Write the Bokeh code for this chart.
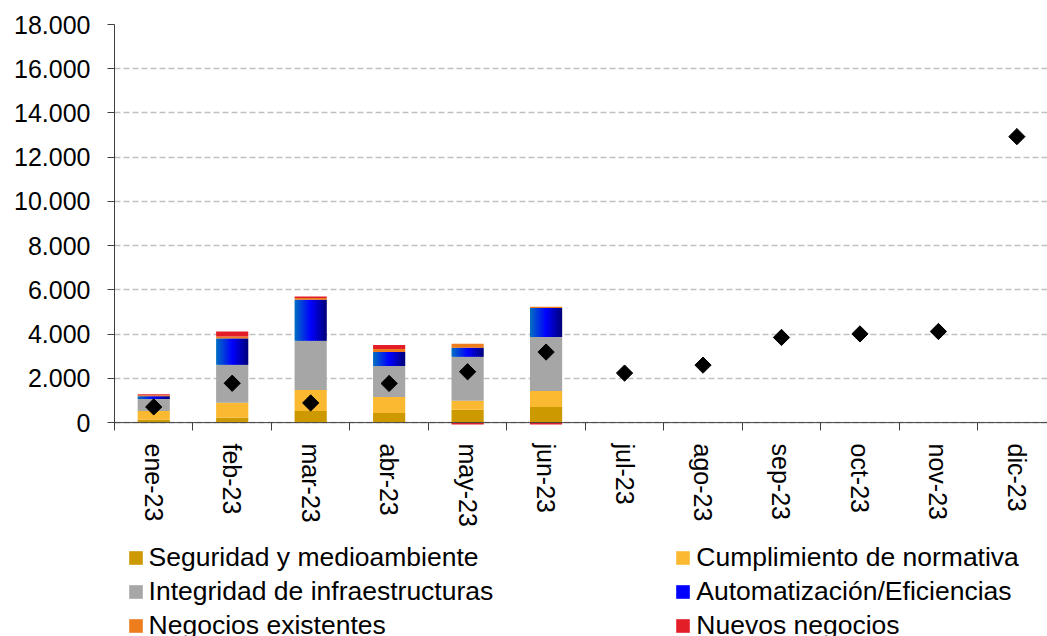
import numpy as np
from bokeh.plotting import figure
from bokeh.layouts import column
from bokeh.models import ColumnDataSource, Range1d, FixedTicker, Span, Legend, LegendItem
from bokeh.transform import dodge
from bokeh.embed import file_html
from bokeh.resources import INLINE

# ---------------- data ----------------
months = ["ene-23", "feb-23", "mar-23", "abr-23", "may-23", "jun-23",
          "jul-23", "ago-23", "sep-23", "oct-23", "nov-23", "dic-23"]
bar_months = months[:6]

seguridad = [130, 220, 530, 440, 580, 710]
cumplimiento = [400, 680, 950, 720, 410, 720]
integridad = [540, 1720, 2220, 1400, 1990, 2440]
automatizacion = [120, 1180, 1850, 630, 410, 1310]
negocios_existentes = [45, 90, 90, 135, 180, 60]
nuevos_negocios = [45, 225, 60, 180, -90, -90]

total = [710, 1780, 890, 1770, 2300, 3190, 2240, 2600, 3850, 4010, 4120, 12930]

y_ticks = [0, 2000, 4000, 6000, 8000, 10000, 12000, 14000, 16000, 18000]
y_tick_labels = ["0", "2.000", "4.000", "6.000", "8.000", "10.000",
                 "12.000", "14.000", "16.000", "18.000"]

series_names = ["Seguridad y medioambiente", "Cumplimiento de normativa",
                "Integridad de infraestructuras", "Automatización/Eficiencias",
                "Negocios existentes", "Nuevos negocios"]
series_values = [seguridad, cumplimiento, integridad, automatizacion,
                 negocios_existentes, nuevos_negocios]
series_colors = ["#CC9900", "#FBB931", "#A6A6A6", "#0000FF", "#EE7D1E", "#E31E29"]

# ---------------- chart ----------------
FONT = "Liberation Sans"
n_cat = len(months)
centers = [i + 0.5 for i in range(n_cat)]
boundaries = [float(i) for i in range(n_cat + 1)]

chart = figure(width=1047, height=530,
               x_range=Range1d(0, 11.89), y_range=Range1d(-130, 18000),
               output_backend="svg", toolbar_location=None,
               min_border_left=114, min_border_right=0,
               min_border_top=24, min_border_bottom=105)
chart.outline_line_color = None
chart.background_fill_color = "white"
chart.border_fill_color = "white"

x_bar = [centers[months.index(m)] for m in bar_months]
pos = np.zeros(len(bar_months))
neg = np.zeros(len(bar_months))
bar_w = 0.41
for name, vals, color in zip(series_names, series_values, series_colors):
    v = np.array(vals, dtype=float)
    bottom = np.where(v >= 0, pos, neg + v)
    top = np.where(v >= 0, pos + v, neg)
    pos = pos + np.clip(v, 0, None)
    neg = neg + np.clip(v, None, 0)
    src = ColumnDataSource(dict(x=x_bar, bottom=bottom, top=top))
    if name.startswith("Automatización"):
        # horizontal gradient imitation by overlapping thin strips
        n_strips = 16
        stops = [(0, 112, 192), (0, 0, 255), (0, 0, 120)]
        sw = bar_w / n_strips
        for i in range(n_strips):
            t = (i + 0.5) / n_strips
            if t <= 0.5:
                a, b, f = stops[0], stops[1], t / 0.5
            else:
                a, b, f = stops[1], stops[2], (t - 0.5) / 0.5
            c = tuple(int(round(a[k] + (b[k] - a[k]) * f)) for k in range(3))
            col = "#%02x%02x%02x" % c
            left = -bar_w / 2 + i * sw
            right = min(left + 1.7 * sw, bar_w / 2)
            chart.vbar(x=dodge("x", (left + right) / 2), width=right - left,
                       bottom="bottom", top="top",
                       fill_color=col, line_color=None, source=src)
    else:
        chart.vbar(x="x", width=bar_w, bottom="bottom", top="top",
                   fill_color=color, line_color=None, source=src)

chart.scatter(x=centers, y=total, marker="square", angle=np.pi / 4, size=11.5,
              fill_color="black", line_color="black")

chart.add_layout(Span(location=0, dimension="width", line_color="#404040", line_width=1))

xa = chart.xaxis[0]
xa.ticker = FixedTicker(ticks=centers, minor_ticks=boundaries)
xa.major_label_overrides = {c: m for c, m in zip(centers, months)}
xa.major_tick_out = 0
xa.major_tick_in = 0
xa.minor_tick_in = 3
xa.minor_tick_out = 5
xa.minor_tick_line_color = "#404040"
xa.axis_line_color = None
xa.major_label_orientation = "vertical"
xa.major_label_standoff = 13
xa.major_label_text_font = FONT
xa.major_label_text_font_size = "25px"
xa.major_label_text_color = "black"

ya = chart.yaxis[0]
ya.ticker = FixedTicker(ticks=y_ticks)
ya.major_label_overrides = {t: l for t, l in zip(y_ticks, y_tick_labels)}
ya.major_tick_out = 7
ya.major_tick_in = 0
ya.minor_tick_out = 0
ya.minor_tick_in = 0
ya.axis_line_color = "#404040"
ya.major_tick_line_color = "#404040"
ya.major_label_standoff = 17
ya.major_label_text_font = FONT
ya.major_label_text_font_size = "25px"
ya.major_label_text_color = "black"

chart.xgrid.visible = False
chart.ygrid.grid_line_color = "#C0C0C0"
chart.ygrid.grid_line_dash = "6 3"
chart.ygrid.grid_line_width = 1.5

# ---------------- legend strip ----------------
leg = figure(width=1047, height=106, x_range=Range1d(0, 1), y_range=Range1d(0, 1),
             output_backend="svg", toolbar_location=None,
             x_axis_location=None, y_axis_location=None,
             min_border_left=0, min_border_right=0, min_border_top=0, min_border_bottom=0)
leg.outline_line_color = None
leg.xgrid.visible = False
leg.ygrid.visible = False

leg_renderers = {}
for name, color in zip(series_names, series_colors):
    leg_renderers[name] = leg.vbar(x=[np.nan], width=0.1, bottom=[np.nan], top=[np.nan],
                                   fill_color=color, line_color=None)


def make_legend(names, loc):
    return Legend(items=[LegendItem(label=n, renderers=[leg_renderers[n]]) for n in names],
                  location=loc, orientation="vertical",
                  label_text_font=FONT, label_text_font_size="26.5px",
                  label_text_color="black",
                  glyph_width=17, glyph_height=17, label_standoff=5,
                  label_height=31, spacing=3, padding=0, margin=0,
                  border_line_color=None, background_fill_alpha=0)


# frame of the legend strip is aligned with the chart frame (x = 114 px)
leg.add_layout(make_legend([series_names[0], series_names[2], series_names[4]], (12.6, -4.5)))
leg.add_layout(make_legend([series_names[1], series_names[3], series_names[5]], (560.3, -4.5)))

p = column(chart, leg, spacing=0)

open("out.html", "w").write(file_html(p, INLINE))
